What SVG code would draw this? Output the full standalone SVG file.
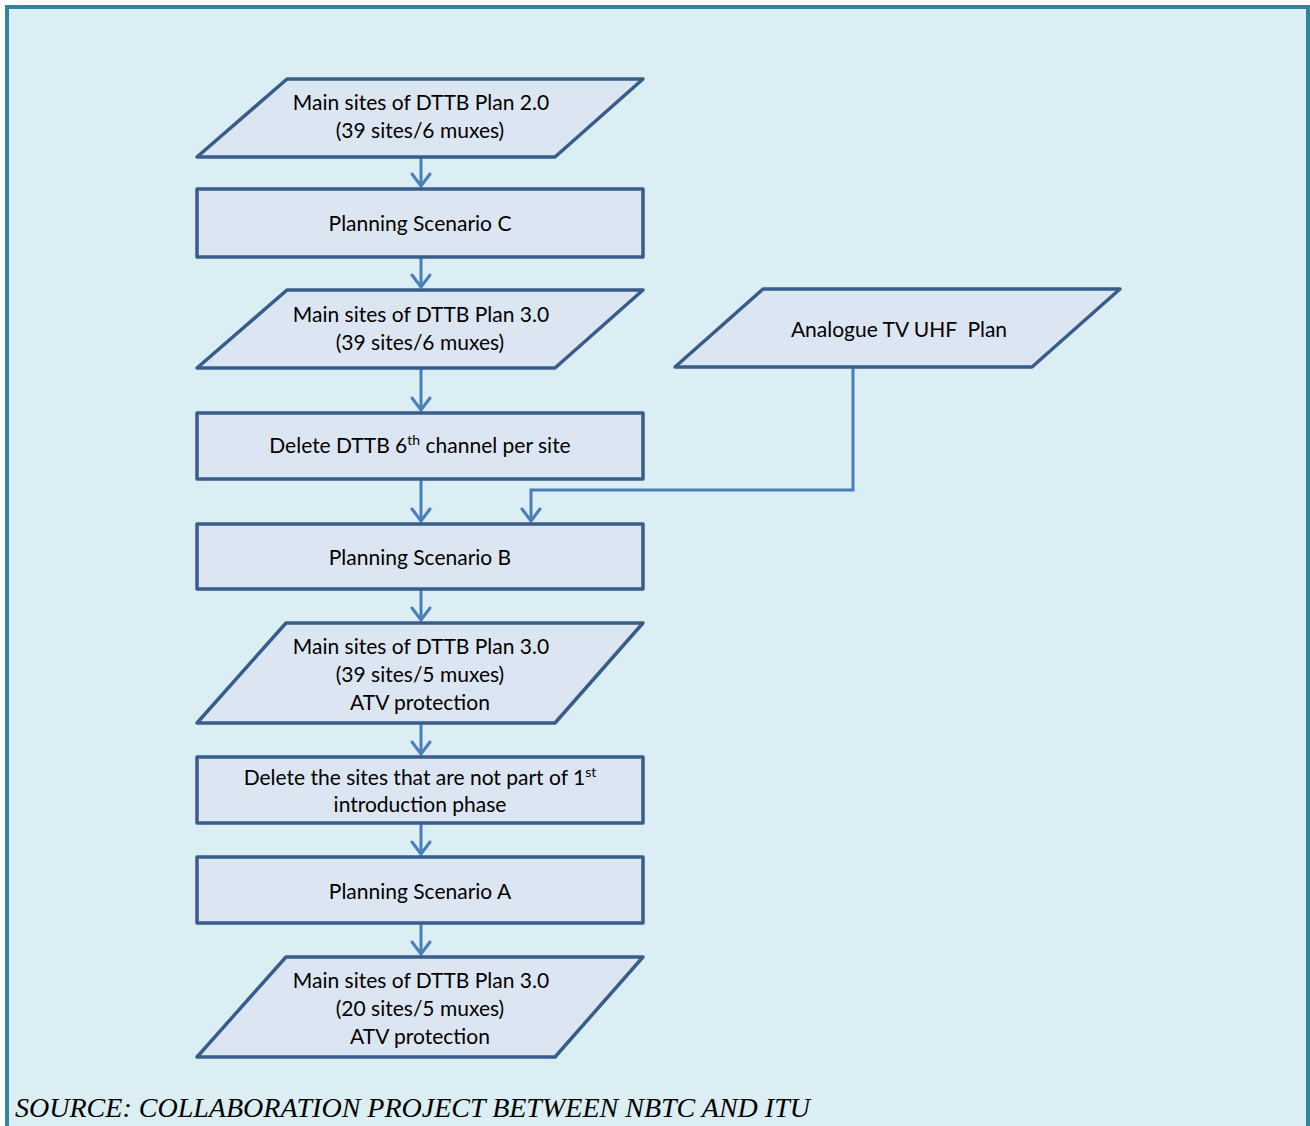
<svg xmlns="http://www.w3.org/2000/svg" width="1310" height="1126" viewBox="0 0 1310 1126">
<style>
.frame{fill:#dbeef4;stroke:#31849b;stroke-width:4}
.node{fill:#dce6f2;stroke:#385d8a;stroke-width:3.5;stroke-linejoin:round}
.lbl{font-family:Lato,"Liberation Sans",sans-serif;font-size:21px;fill:#000;text-anchor:middle}
.sup{font-size:14px}
.conn{fill:none;stroke:#4a7ebb;stroke-width:3}
.src{font-family:"Liberation Serif",serif;font-style:italic;font-size:27px;fill:#000}
</style>
<defs>
<marker id="arr" markerUnits="userSpaceOnUse" markerWidth="30" markerHeight="30" viewBox="-15 -15 30 30" refX="0" refY="0" orient="auto">
<path d="M-12,-9 L0,0 L-12,9" fill="none" stroke="#4a7ebb" stroke-width="3" stroke-linecap="round" stroke-linejoin="miter"/>
</marker>
</defs>
<rect class="frame" x="7" y="7" width="1301" height="1140"/>

<g id="connectors">
<line class="conn" x1="421" y1="157" x2="421" y2="186" marker-end="url(#arr)"/>
<line class="conn" x1="421" y1="257" x2="421" y2="287" marker-end="url(#arr)"/>
<line class="conn" x1="421" y1="368" x2="421" y2="410" marker-end="url(#arr)"/>
<line class="conn" x1="421" y1="479" x2="421" y2="521" marker-end="url(#arr)"/>
<polyline class="conn" points="853,367 853,490 531,490 531,521" marker-end="url(#arr)"/>
<line class="conn" x1="421" y1="589" x2="421" y2="620" marker-end="url(#arr)"/>
<line class="conn" x1="421" y1="723" x2="421" y2="754" marker-end="url(#arr)"/>
<line class="conn" x1="421" y1="823" x2="421" y2="854" marker-end="url(#arr)"/>
<line class="conn" x1="421" y1="923" x2="421" y2="954" marker-end="url(#arr)"/>
</g>

<g id="plan20">
<polygon class="node" points="287,79 643,79 555,157 197,157"/>
<text class="lbl" x="421" y="110">Main sites of DTTB Plan 2.0</text>
<text class="lbl" x="420" y="138">(39 sites/6 muxes)</text>
</g>

<g id="scenC">
<rect class="node" x="197" y="189" width="446" height="68"/>
<text class="lbl" x="420" y="231">Planning Scenario C</text>
</g>

<g id="plan30a">
<polygon class="node" points="287,290 643,290 555,368 197,368"/>
<text class="lbl" x="421" y="322">Main sites of DTTB Plan 3.0</text>
<text class="lbl" x="420" y="350">(39 sites/6 muxes)</text>
</g>

<g id="atv">
<polygon class="node" points="763,289 1120,289 1032,367 675,367"/>
<text class="lbl" x="899" y="337">Analogue TV UHF&#160; Plan</text>
</g>

<g id="del6">
<rect class="node" x="197" y="413" width="446" height="66"/>
<text class="lbl" x="420" y="453">Delete DTTB 6<tspan class="sup" dy="-8">th</tspan><tspan dy="8"> channel per site</tspan></text>
</g>

<g id="scenB">
<rect class="node" x="197" y="524" width="446" height="65"/>
<text class="lbl" x="420" y="565">Planning Scenario B</text>
</g>

<g id="plan30b">
<polygon class="node" points="286,623 643,623 555,723 197,723"/>
<text class="lbl" x="421" y="654">Main sites of DTTB Plan 3.0</text>
<text class="lbl" x="420" y="682">(39 sites/5 muxes)</text>
<text class="lbl" x="420" y="710">ATV protection</text>
</g>

<g id="delsites">
<rect class="node" x="197" y="757" width="446" height="66"/>
<text class="lbl" x="420" y="785">Delete the sites that are not part of 1<tspan class="sup" dy="-8">st</tspan></text>
<text class="lbl" x="420" y="812">introduction phase</text>
</g>

<g id="scenA">
<rect class="node" x="197" y="857" width="446" height="66"/>
<text class="lbl" x="420" y="899">Planning Scenario A</text>
</g>

<g id="plan30c">
<polygon class="node" points="286,957 643,957 555,1057 197,1057"/>
<text class="lbl" x="421" y="988">Main sites of DTTB Plan 3.0</text>
<text class="lbl" x="420" y="1016">(20 sites/5 muxes)</text>
<text class="lbl" x="420" y="1044">ATV protection</text>
</g>

<text class="src" x="15" y="1117" textLength="795" lengthAdjust="spacingAndGlyphs">SOURCE: COLLABORATION PROJECT BETWEEN NBTC AND ITU</text>
</svg>
